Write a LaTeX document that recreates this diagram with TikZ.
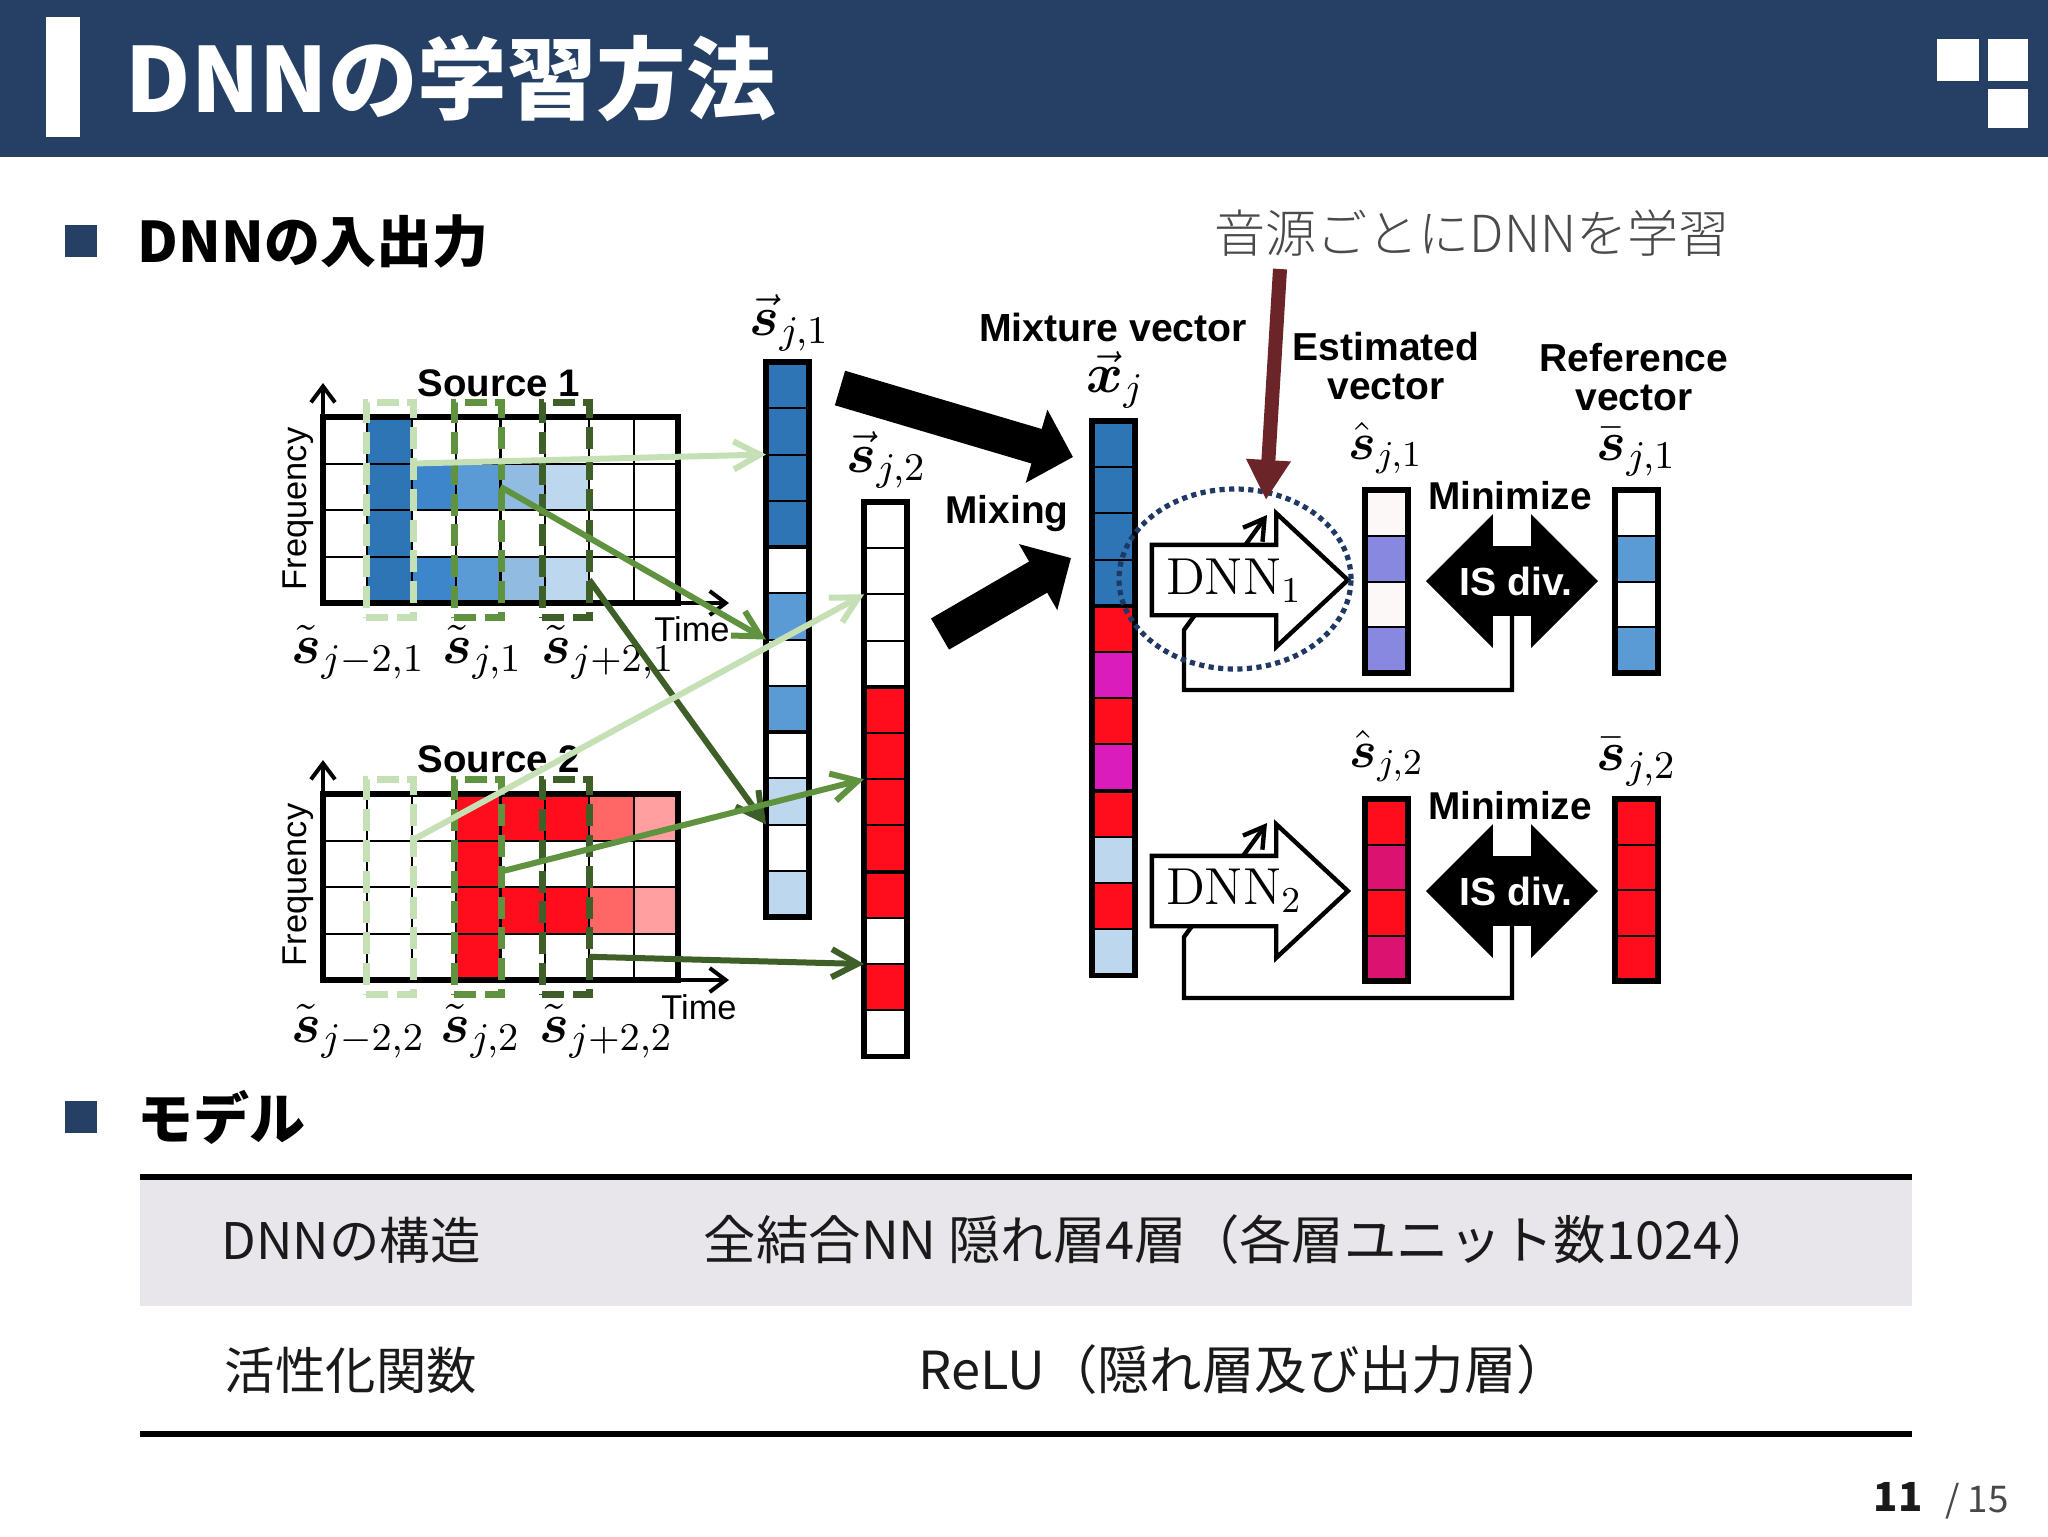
\RequirePackage{fix-cm}
\documentclass[tikz,border=0pt]{standalone}
\usepackage{amsmath,amssymb}
\usepackage[no-math]{fontspec}
\usepackage{tikz}
\usetikzlibrary{arrows.meta,positioning,shapes.arrows,shapes.geometric}
\newfontfamily\jpfont{Noto Sans CJK JP}
\newfontfamily\jpthin{Noto Sans CJK JP Light}
\newfontfamily\jpmid{Noto Sans CJK JP Medium}
\newfontfamily\lbfont{Liberation Sans}
\definecolor{band}{HTML}{264065}
\definecolor{rowgray}{HTML}{E8E6EA}
\definecolor{inktext}{HTML}{1A1A1A}
\definecolor{leadgray}{HTML}{4A4A4A}
\definecolor{blueA}{HTML}{2E75B6}
\definecolor{blueB}{HTML}{3E86CC}
\definecolor{blueC}{HTML}{5B9BD5}
\definecolor{blueD}{HTML}{92BBE2}
\definecolor{blueE}{HTML}{BDD7EE}
\definecolor{redA}{HTML}{FF0D1C}
\definecolor{redB}{HTML}{FF6666}
\definecolor{redC}{HTML}{FF9F9F}
\definecolor{magA}{HTML}{D91CBB}
\definecolor{magB}{HTML}{DC1270}
\definecolor{perA}{HTML}{8888E0}
\definecolor{perB}{HTML}{FDF8F8}
\definecolor{greenA}{HTML}{C5E0B4}
\definecolor{greenB}{HTML}{5F9340}
\definecolor{greenC}{HTML}{3F5F28}
\definecolor{maroon}{HTML}{6B2528}
\definecolor{navy}{HTML}{1F3864}
\tikzset{
    cellbox/.style={
           rectangle,
           draw=black, line width=0.5pt,
           inner sep=0pt, outer sep=0pt,
           },
    stackframe/.style={
           draw=black, line width=1.3pt,
           },
    specframe/.style={
           draw=black, line width=1.3pt,
           },
    axisline/.style={
           draw=black, line width=1pt,
           -{Straight Barb[length=4pt,width=6pt]},
           },
    winbox/.style={
           rectangle,
           line width=1.6pt,
           dash pattern=on 5.5pt off 2.2pt,
           minimum width=11.8pt, minimum height=53.75pt,
           inner sep=0pt, outer sep=0pt,
           },
    pickline/.style={
           line width=1.5pt,
           -{Straight Barb[length=6.5pt,width=7pt]},
           },
    bigline/.style={
           draw=black, line width=9pt,
           -{Triangle[length=9.5pt,width=18.5pt]},
           },
    dnnbox/.style={
           single arrow,
           draw=black, fill=white, line width=1.1pt,
           minimum height=49pt, minimum width=32pt,
           single arrow head extend=7.9pt,
           single arrow tip angle=86,
           inner xsep=0pt, inner ysep=8.25pt, outer sep=0pt,
           },
    isbox/.style={
           double arrow,
           fill=black,
           minimum height=43pt, minimum width=33pt,
           double arrow head extend=8pt,
           inner xsep=0pt, inner ysep=8.5pt, outer sep=0pt,
           },
    backline/.style={
           draw=black, line width=1.1pt,
           -{Straight Barb[length=5pt,width=6pt]},
           },
    lbtext/.style={
           font=\lbfont\fontsize{8.6}{10}\selectfont,
           inner sep=0pt,
           },
    lbbold/.style={
           font=\lbfont\bfseries\fontsize{9.7}{12}\selectfont,
           inner sep=0pt, align=center,
           },
    mathtext/.style={
           font=\fontsize{14}{16}\selectfont,
           inner sep=0pt, anchor=base west,
           },
    jptext/.style={
           font=\jpfont\fontsize{12.6}{15}\selectfont,
           text=inktext, inner sep=0pt, anchor=west,
           },
    jpvalue/.style={
           font=\jpfont\fontsize{13.1}{15}\selectfont,
           text=inktext, inner sep=0pt, anchor=west,
           },
    jpbold/.style={
           font=\jpfont\bfseries\fontsize{14}{17}\selectfont,
           text=black, inner sep=0pt, anchor=west,
           },
    bullet/.style={
           rectangle, fill=band,
           minimum size=8.2pt,
           inner sep=0pt, outer sep=0pt,
           },
}
\newcommand{\cellstack}[5]{
\foreach \c [count=\i] in {#5}
    \node[cellbox,fill=\c,anchor=north west,minimum width=10.75pt,minimum height=#4*0.25pt] (#1\i) at (#2,{#3+(\i-1)*#4}) {};
}
\newcommand{\specgrid}[4]{
\foreach \c [count=\i from 0] in {#4}{
    \pgfmathtruncatemacro{\gx}{mod(\i,8)}
    \pgfmathtruncatemacro{\gy}{\i/8}
    \node[cellbox,fill=\c,anchor=north west,minimum width=11.09pt,minimum height=11.63pt] (#1-\gx-\gy) at ({#2+\gx*44.375},{#3+\gy*46.5}) {};
}
\draw[specframe] (#1-0-0.north west) rectangle (#1-7-3.south east);
\draw[axisline] (#1-0-3.south west) -- ++(0,-220);
\draw[axisline] (#1-0-3.south west) -- ++(406,0);
}
\begin{document}
\begin{tikzpicture}[x=0.25pt,y=-0.25pt]
\useasboundingbox (0,0) rectangle (2048,1536);
\fill[white] (0,0) rectangle (2048,1536);
\fill[band] (0,0) rectangle (2048,157);
\fill[white] (46,17) rectangle (80,137);
\fill[white] (1937,39) rectangle (1979,81);
\fill[white] (1988,39) rectangle (2028,81);
\fill[white] (1988,89) rectangle (2028,128);
\node[font=\jpfont\bfseries\fontsize{22.4}{27}\selectfont,text=white,anchor=west,inner sep=0pt] (pagetitle) at (125,79) {{\jpmid DNN}の学習方法};

\node[bullet] (bulA) at (81,241) {};
\node[jpbold] (headA) at (137,241) {DNNの入出力};
\node[bullet] (bulB) at (81,1117) {};
\node[jpbold] (headB) at (137,1117) {モデル};

\node[font=\jpthin\fontsize{12.75}{15}\selectfont,text=leadgray,inner sep=0pt] (lead) at (1472,233) {音源ごとにDNNを学習};
\coordinate (leadfoot) at (1280,269);

\specgrid{fA}{323}{417}{
white,blueA,white,white,white,white,white,white,
white,blueA,blueB,blueC,blueD,blueE,white,white,
white,blueA,white,white,white,white,white,white,
white,blueA,blueB,blueC,blueD,blueE,white,white}
\specgrid{fB}{323}{794}{
white,white,white,redA,redA,redA,redB,redC,
white,white,white,redA,white,white,white,white,
white,white,white,redA,redA,redA,redB,redC,
white,white,white,redA,white,white,white,white}

\cellstack{srcA}{766}{362}{46.25}{blueA,blueA,blueA,blueA,white,blueC,white,blueC,white,blueE,white,blueE}
\cellstack{srcB}{864}{502}{46.2}{white,white,white,white,redA,redA,redA,redA,redA,white,redA,white}
\cellstack{mix}{1092}{421}{46.2}{blueA,blueA,blueA,blueA,redA,magA,redA,magA,redA,blueE,redA,blueE}
\cellstack{estA}{1365}{490}{45.75}{perB,perA,perB,perA}
\cellstack{refA}{1615}{490}{45.75}{white,blueC,white,blueC}
\cellstack{estB}{1365}{799}{45.5}{redA,magB,redA,magB}
\cellstack{refB}{1615}{799}{45.5}{redA,redA,redA,redA}
\foreach \nm/\last in {srcA/12,srcB/12,mix/12,estA/4,refA/4,estB/4,refB/4}
    \draw[stackframe] (\nm1.north west) rectangle (\nm\last.south east);
\foreach \nm in {srcA,srcB,mix}{
    \draw[line width=1pt] (\nm4.south west) -- (\nm4.south east);
    \draw[line width=1pt] (\nm8.south west) -- (\nm8.south east);
}

\node[winbox,draw=greenA] (winA1) at (390,510) {};
\node[winbox,draw=greenB] (winA2) at (478,510) {};
\node[winbox,draw=greenC] (winA3) at (566,510) {};
\node[winbox,draw=greenA] (winB1) at (390,887) {};
\node[winbox,draw=greenB] (winB2) at (478,887) {};
\node[winbox,draw=greenC] (winB3) at (566,887) {};

\node[lbbold,font=\lbfont\bfseries\fontsize{9.6}{12}\selectfont] (srcnameA) at (499,383) {Source 1};
\node[lbbold,font=\lbfont\bfseries\fontsize{9.6}{12}\selectfont] (srcnameB) at (499,759) {Source 2};
\node[lbtext,rotate=90] (freqA) at (298,509) {Frequency};
\node[lbtext,rotate=90] (freqB) at (298,885) {Frequency};
\node[lbtext] (timeA) at (692,629) {Time};
\node[lbtext] (timeB) at (699,1007) {Time};

\node[mathtext] (tildeA1) at (291,663) {$\tilde{\boldsymbol{s}}_{j-2,1}$};
\node[mathtext] (tildeA2) at (442,663) {$\tilde{\boldsymbol{s}}_{j,1}$};
\node[mathtext] (tildeA3) at (541,663) {$\tilde{\boldsymbol{s}}_{j+2,1}$};
\node[mathtext] (tildeB1) at (291,1042) {$\tilde{\boldsymbol{s}}_{j-2,2}$};
\node[mathtext] (tildeB2) at (440,1042) {$\tilde{\boldsymbol{s}}_{j,2}$};
\node[mathtext] (tildeB3) at (539,1042) {$\tilde{\boldsymbol{s}}_{j+2,2}$};
\node[mathtext] (vecA) at (749,335) {$\vec{\boldsymbol{s}}_{j,1}$};
\node[mathtext] (vecB) at (846,472) {$\vec{\boldsymbol{s}}_{j,2}$};
\node[mathtext] (vecX) at (1086,392) {$\vec{\boldsymbol{x}}_{j}$};
\node[mathtext,font=\fontsize{13}{16}\selectfont] (hatA) at (1348,459) {$\hat{\boldsymbol{s}}_{j,1}$};
\node[mathtext] (barA) at (1596,460) {$\bar{\boldsymbol{s}}_{j,1}$};
\node[mathtext,font=\fontsize{13}{16}\selectfont] (hatB) at (1349,767) {$\hat{\boldsymbol{s}}_{j,2}$};
\node[mathtext] (barB) at (1596,770) {$\bar{\boldsymbol{s}}_{j,2}$};

\node[lbbold,font=\lbfont\bfseries\fontsize{9.8}{12}\selectfont] (mixname) at (1113,327) {Mixture vector};
\node[lbbold] (mixing) at (1007,514) {Mixing};
\node[lbbold,font=\lbfont\bfseries\fontsize{9.75}{9.75}\selectfont] (estname) at (1386,366) {Estimated\\vector};
\node[lbbold,font=\lbfont\bfseries\fontsize{9.75}{9.75}\selectfont] (refname) at (1634,377) {Reference\\vector};
\node[lbbold] (minA) at (1510,496) {Minimize};
\node[lbbold] (minB) at (1510,806) {Minimize};

\draw[pickline,draw=greenC] (fA-5-3.east) -- (srcA10.south west);
\draw[pickline,draw=greenB] (fA-3-1.east) -- (srcA6.south west);
\draw[pickline,draw=greenA] (fA-1-0.south east) -- (srcA2.south west);
\draw[pickline,draw=greenA] (fB-1-0.south east) -- (srcB2.south west);
\coordinate (midB) at (503,871);
\draw[pickline,draw=greenB] (midB) -- (srcB6.south west);
\draw[pickline,draw=greenC] (fB-5-3.east) -- (srcB10.south west);

\coordinate (tailA) at (840,388);
\coordinate (tipA) at (1073,457);
\coordinate (tailB) at (940,634);
\coordinate (tipB) at (1071,558);
\draw[bigline] (tailA) -- (tipA);
\draw[bigline] (tailB) -- (tipB);

\node[isbox] (isA) at (1512,581) {};
\node[isbox] (isB) at (1512,891) {};
\node[font=\lbfont\bfseries\fontsize{9.8}{12}\selectfont,text=white,inner sep=0pt] (isnameA) at (1516,581) {IS div.};
\node[font=\lbfont\bfseries\fontsize{9.8}{12}\selectfont,text=white,inner sep=0pt] (isnameB) at (1516,891) {IS div.};

\coordinate (cornerA) at (1184,690);
\coordinate (kinkA) at (1184,630);
\coordinate (endA) at (1267,515);
\coordinate (cornerB) at (1184,998);
\coordinate (kinkB) at (1184,937);
\coordinate (endB) at (1267,823);
\draw[backline] (isA.center |- 0,615) -- (isA.center |- cornerA) -- (cornerA) -- (kinkA) -- (endA);
\draw[backline] (isB.center |- 0,924) -- (isB.center |- cornerB) -- (cornerB) -- (kinkB) -- (endB);

\node[dnnbox] (dnnA) at (1231,580) {};
\node[dnnbox] (dnnB) at (1231,891) {};
\node[inner sep=0pt,font=\fontsize{13}{15}\selectfont] (dnnnameA) at (1234,581) {$\mathrm{DNN}_1$};
\node[inner sep=0pt,font=\fontsize{13}{15}\selectfont] (dnnnameB) at (1234,891) {$\mathrm{DNN}_2$};

\node[ellipse,draw=navy,line width=1.3pt,dash pattern=on 1.3pt off 1.1pt,minimum width=58pt,minimum height=45pt,inner sep=0pt] (focus) at (1235,579) {};
\draw[draw=maroon,line width=3.5pt,-{Triangle[length=10pt,width=10.5pt]}] (leadfoot) -- (1266,500);

\fill[rowgray] (140,1177) rectangle (1912,1306);
\draw[line width=1.4pt] (140,1177) -- (1912,1177);
\draw[line width=1.4pt] (140,1434) -- (1912,1434);
\node[jptext] (rowA) at (221,1240) {DNNの構造};
\node[jpvalue] (rowAv) at (703,1240) {全結合NN 隠れ層4層（各層ユニット数1024）};
\node[jptext] (rowB) at (224,1370) {活性化関数};
\node[jpvalue] (rowBv) at (918,1370) {ReLU（隠れ層及び出力層）};

\node[font=\jpfont\bfseries\fontsize{10}{12}\selectfont,text=inktext,inner sep=0pt] (pagenum) at (1898,1497) {11};
\node[font=\jpfont\fontsize{9.2}{11}\selectfont,text=inktext!80,inner sep=0pt] (pagetot) at (1977,1501) {/ 15};
\end{tikzpicture}
\end{document}
